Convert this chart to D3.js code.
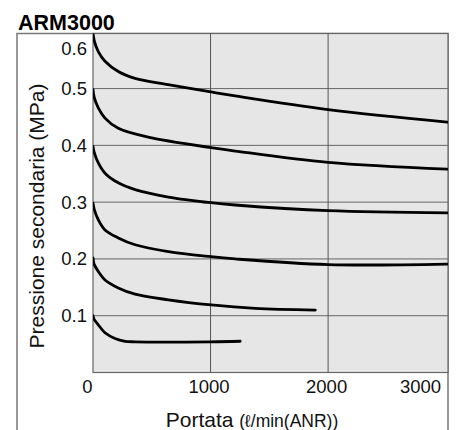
<!DOCTYPE html>
<html>
<head>
<meta charset="utf-8">
<script src="https://cdn.jsdelivr.net/npm/d3@7"></script>
<style>
  body { margin: 0; background: #fff; }
  text { font-family: "Liberation Sans", Arial, Helvetica, sans-serif; }
</style>
</head>
<body>
<svg width="459" height="430"></svg>
<script>
// set pressure curves: [flow l/min, secondary pressure MPa]
const set06 = [[0, 0.598], [11, 0.584], [45, 0.565], [102, 0.548], [215, 0.530], [358, 0.518],
               [639, 0.507], [1003, 0.494], [1210, 0.487], [2000, 0.463], [3013, 0.441]];
const set05 = [[0, 0.498], [11, 0.484], [45, 0.466], [102, 0.448], [215, 0.430], [500, 0.413],
               [784, 0.403], [1003, 0.396], [1210, 0.390], [2000, 0.370], [3013, 0.358]];
const set04 = [[0, 0.398], [11, 0.387], [45, 0.369], [102, 0.351], [215, 0.334], [358, 0.322],
               [641, 0.309], [1003, 0.299], [1210, 0.295], [2000, 0.285], [3013, 0.281]];
const set03 = [[0, 0.298], [11, 0.287], [45, 0.269], [102, 0.251], [215, 0.237], [358, 0.225],
               [641, 0.213], [1003, 0.204], [1210, 0.200], [2000, 0.190], [3013, 0.191]];
const set02 = [[0, 0.202], [11, 0.190], [45, 0.178], [102, 0.163], [215, 0.149], [358, 0.138],
               [641, 0.128], [1005, 0.119], [1380, 0.113], [1891, 0.110]];
const set01 = [[0, 0.100], [11, 0.093], [45, 0.084], [102, 0.070], [187, 0.060], [273, 0.055],
               [358, 0.054], [1005, 0.054], [1252, 0.055]];
const curves = [set06, set05, set04, set03, set02, set01];

const flowTicks = [0, 1000, 2000, 3000];
const pressTicks = [0.1, 0.2, 0.3, 0.4, 0.5];
const topLabel = "0.6";

const svg = d3.select("svg");

const x = d3.scaleLinear().domain([0, 3020]).range([93, 448]);
const y = d3.scaleLinear().domain([0, 0.597]).range([372.5, 33.5]);

// outer frame
svg.append("path")
   .attr("d", "M17,430V33.5H448V430")
   .attr("fill", "none")
   .attr("stroke", "#777")
   .attr("stroke-width", 1.5);

// plot background
svg.append("rect")
   .attr("x", x(0)).attr("y", y(0.597))
   .attr("width", x(3020) - x(0)).attr("height", y(0) - y(0.597))
   .attr("fill", "#e6e6e6")
   .attr("stroke", "#666")
   .attr("stroke-width", 1.2);

// grid
svg.append("g")
   .selectAll("line")
   .data(pressTicks)
   .join("line")
   .attr("x1", x(0)).attr("x2", x(3020))
   .attr("y1", d => y(d)).attr("y2", d => y(d))
   .attr("stroke", "#666")
   .attr("stroke-width", 1);

svg.append("g")
   .selectAll("line")
   .data(flowTicks.slice(1, 3))
   .join("line")
   .attr("x1", d => x(d)).attr("x2", d => x(d))
   .attr("y1", y(0)).attr("y2", y(0.597))
   .attr("stroke", "#555")
   .attr("stroke-width", 1);

// y axis labels
const yAxis = d3.axisLeft(y).tickValues(pressTicks).tickSize(0).tickPadding(6)
   .tickFormat(d3.format(".1f"));
const gy = svg.append("g")
   .attr("transform", `translate(${x(0)},0)`)
   .call(yAxis);
gy.select(".domain").remove();
gy.selectAll("text")
   .attr("font-size", 18.5)
   .attr("font-family", "Liberation Sans, Arial, sans-serif")
   .attr("fill", "#111");

svg.append("text")
   .attr("x", x(0) - 6)
   .attr("y", y(0.6) + 17)
   .attr("dy", "0.32em")
   .attr("text-anchor", "end")
   .attr("font-size", 18.5)
   .attr("fill", "#111")
   .text(topLabel);

// x axis labels
const xAxis = d3.axisBottom(x).tickValues(flowTicks).tickSize(0).tickPadding(7)
   .tickFormat(d3.format("d"));
const gx = svg.append("g")
   .attr("transform", `translate(0,${y(0)})`)
   .call(xAxis);
gx.select(".domain").remove();
gx.selectAll("text")
   .attr("font-size", 18.5)
   .attr("font-family", "Liberation Sans, Arial, sans-serif")
   .attr("fill", "#111")
   .attr("text-anchor", (d, i) => i === 0 || i === flowTicks.length - 1 ? "end" : "middle")
   .attr("x", (d, i) => i === 0 ? -1 : i === flowTicks.length - 1 ? -5 : -2);

// curves
svg.append("clipPath").attr("id", "plot")
   .append("rect")
   .attr("x", x(0)).attr("y", y(0.597))
   .attr("width", x(3020) - x(0)).attr("height", y(0) - y(0.597));

const line = d3.line()
   .x(d => x(d[0]))
   .y(d => y(d[1]))
   .curve(d3.curveCatmullRom.alpha(0.5));

svg.append("g")
   .attr("clip-path", "url(#plot)")
   .selectAll("path")
   .data(curves)
   .join("path")
   .attr("fill", "none")
   .attr("stroke", "#000")
   .attr("stroke-width", 2.8)
   .attr("stroke-linecap", "round")
   .attr("d", line);

// titles
svg.append("text")
   .attr("x", 18)
   .attr("y", 30)
   .attr("font-size", 21.5)
   .attr("font-weight", "bold")
   .attr("fill", "#000")
   .text("ARM3000");

svg.append("text")
   .attr("transform", "translate(44,216) rotate(-90)")
   .attr("text-anchor", "middle")
   .attr("font-size", 21)
   .attr("fill", "#111")
   .text("Pressione secondaria (MPa)");

const xl = svg.append("text")
   .attr("x", 252)
   .attr("y", 426.5)
   .attr("text-anchor", "middle")
   .attr("fill", "#111");
xl.append("tspan").attr("font-size", 21).text("Portata ");
xl.append("tspan").attr("font-size", 17.5).text("(ℓ/min(ANR))");
</script>
</body>
</html>
